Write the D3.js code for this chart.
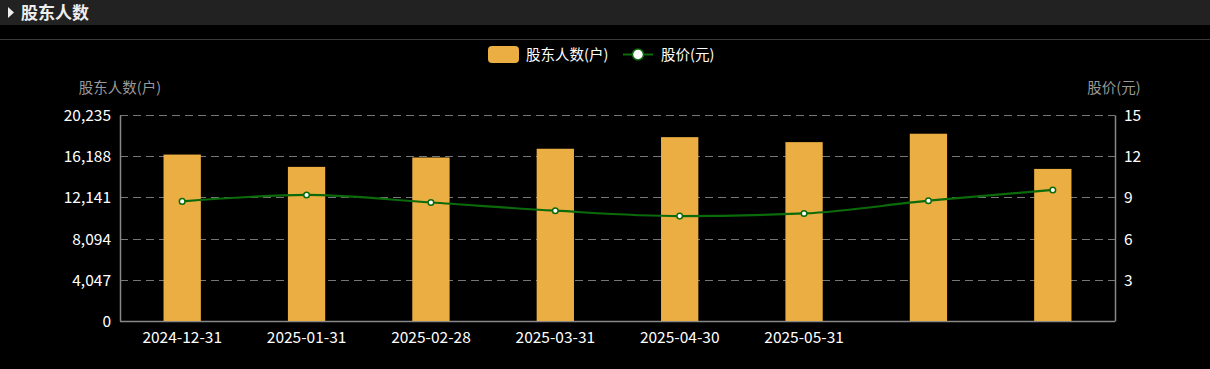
<!DOCTYPE html>
<html><head><meta charset="utf-8">
<script src="https://cdn.jsdelivr.net/npm/d3@7"></script>
<style>
html,body{margin:0;padding:0;background:#000;}
svg{display:block;font-family:"Noto Sans CJK SC","Microsoft YaHei",sans-serif;}
</style></head>
<body><svg id="c" width="1210" height="369"></svg>
<script>
const categories = ["2024-12-31","2025-01-31","2025-02-28","2025-03-31","2025-04-30","2025-05-31","",""];
const holders = [16350, 15140, 16060, 16920, 18060, 17570, 18395, 14940];
const prices = [8.71, 9.18, 8.63, 8.03, 7.64, 7.83, 8.76, 9.54];
const leftTicks = [0, 4047, 8094, 12141, 16188, 20235];
const rightTicks = [3, 6, 9, 12, 15];

const svg = d3.select("#c");
const W = 1210, H = 369;
const m = {l:120, r:1115, t:115, b:321};

// header
svg.append("rect").attr("x",0).attr("y",0).attr("width",W).attr("height",25).attr("fill","#222");
svg.append("path").attr("d","M8,7 L14,12.5 L8,18 Z").attr("fill","#eee");
svg.append("text").attr("x",21).attr("y",18.5).attr("fill","#eee").attr("font-size",17).attr("font-weight","bold").text("股东人数");
svg.append("line").attr("x1",0).attr("x2",W).attr("y1",39.5).attr("y2",39.5).attr("stroke","#3a3a3a");

const x = d3.scaleBand().domain(d3.range(categories.length)).range([m.l, m.r]).paddingInner(0.7).paddingOuter(0.35);
const yL = d3.scaleLinear().domain([0, 20235]).range([m.b, m.t]);
const yR = d3.scaleLinear().domain([0, 15]).range([m.b, m.t]);

// grid
svg.append("g").selectAll("line").data(leftTicks.filter(d=>d>0)).join("line")
  .attr("x1",m.l).attr("x2",m.r).attr("y1",d=>Math.round(yL(d))+0.5).attr("y2",d=>Math.round(yL(d))+0.5)
  .attr("stroke","#777").attr("stroke-dasharray","8,5");

// axes
const gl = svg.append("g").attr("transform",`translate(${m.l},0)`)
  .call(d3.axisLeft(yL).tickValues(leftTicks).tickFormat(d3.format(",")).tickSize(0).tickPadding(9));
const gr = svg.append("g").attr("transform",`translate(${m.r},0)`)
  .call(d3.axisRight(yR).tickValues(rightTicks).tickSize(0).tickPadding(9));
const gb = svg.append("g").attr("transform",`translate(0,${m.b})`)
  .call(d3.axisBottom(x).tickFormat(i=>categories[i]).tickSize(0).tickPadding(9));
[gl,gr,gb].forEach(g=>{
  g.select(".domain").attr("stroke","#888").attr("stroke-width",1.5);
  g.selectAll("text").attr("fill","#fff").attr("font-size",15.5).attr("font-family","'Noto Sans CJK SC',sans-serif");
});
gb.select(".domain").attr("d",`M${m.l},0.5H${m.r}`);
gl.selectAll("text").attr("dy","0.35em");
gr.selectAll("text").attr("dy","0.35em");
gb.selectAll("text").attr("dy","0.85em");

// axis names
svg.append("text").attr("x",120).attr("y",93).attr("text-anchor","middle").attr("fill","#999").attr("font-size",14.5).text("股东人数(户)");
svg.append("text").attr("x",1114).attr("y",93).attr("text-anchor","middle").attr("fill","#999").attr("font-size",14.5).text("股价(元)");

// bars
svg.append("g").selectAll("rect").data(holders).join("rect")
  .attr("x",(d,i)=>x(i)).attr("width",x.bandwidth())
  .attr("y",d=>yL(d)).attr("height",d=>m.b-yL(d)).attr("fill","#ebae42");

// line
const line = d3.line().x((d,i)=>x(i)+x.bandwidth()/2).y(d=>yR(d)).curve(d3.curveMonotoneX);
svg.append("path").datum(prices).attr("d",line).attr("fill","none").attr("stroke","#0b6b0b").attr("stroke-width",2.2);
svg.append("g").selectAll("circle").data(prices).join("circle")
  .attr("cx",(d,i)=>x(i)+x.bandwidth()/2).attr("cy",d=>yR(d)).attr("r",2.8)
  .attr("fill","#fff").attr("stroke","#0b6b0b").attr("stroke-width",1.5);

// legend
const lg = svg.append("g");
lg.append("rect").attr("x",488).attr("y",46).attr("width",31).attr("height",17).attr("rx",4).attr("fill","#ebae42");
lg.append("text").attr("x",526).attr("y",59.5).attr("fill","#fff").attr("font-size",14.5).text("股东人数(户)");
lg.append("line").attr("x1",623).attr("x2",653).attr("y1",54.5).attr("y2",54.5).attr("stroke","#0b6b0b").attr("stroke-width",2);
lg.append("circle").attr("cx",638).attr("cy",54.5).attr("r",5.5).attr("fill","#fff").attr("stroke","#0b6b0b").attr("stroke-width",1.5);
lg.append("text").attr("x",661).attr("y",59.5).attr("fill","#fff").attr("font-size",14.5).text("股价(元)");
</script></body></html>
